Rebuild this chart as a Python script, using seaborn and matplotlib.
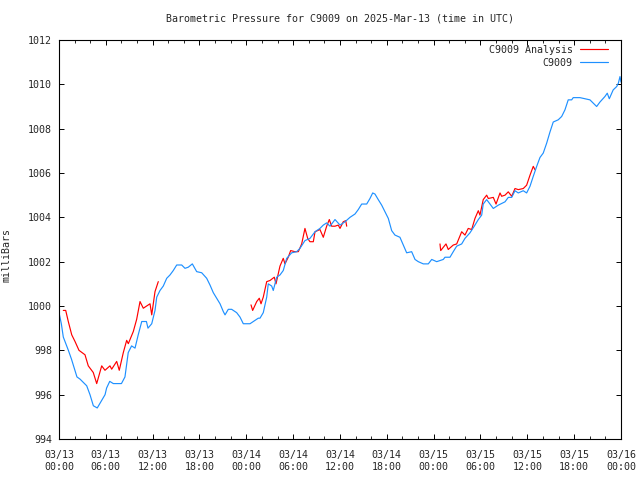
import numpy as np
import pandas as pd
import matplotlib
matplotlib.use("Agg")
import matplotlib.pyplot as plt
import matplotlib.dates as mdates
from matplotlib.lines import Line2D
import seaborn as sns

# ---- data (hours since 2025-03-13 00:00 UTC, pressure in mb) ----
obs_hours = [0.0, 0.3, 0.55, 1.2, 1.6, 2.3, 2.7, 3.55, 3.97, 4.4, 4.9, 5.9, 6.1, 6.5, 6.96,
             8.0, 8.45, 8.87, 9.3, 9.74, 10.15, 10.6, 11.2, 11.4, 11.88, 12.3, 12.52, 12.94,
             13.36, 13.8, 14.22, 14.64, 15.08, 15.72, 16.14, 16.56, 17.08, 17.64, 18.28,
             18.92, 19.34, 19.77, 20.2, 20.63, 21.05, 21.27, 21.69, 22.12, 22.76, 23.19,
             23.61, 24.47, 25.11, 25.53, 25.75, 26.17, 26.61, 26.81, 27.25, 27.45, 27.89,
             28.31, 28.73, 29.17, 29.81, 30.45, 30.87, 31.51, 32.15, 32.8, 33.43, 33.86,
             34.29, 34.72, 35.36, 36.0, 36.64, 37.28, 37.92, 38.34, 38.78, 39.42, 39.84,
             40.19, 40.48, 40.9, 41.34, 41.76, 42.19, 42.62, 43.04, 43.68, 44.11, 44.54,
             45.18, 45.61, 46.03, 46.67, 47.31, 47.75, 48.39, 49.23, 49.45, 50.09, 50.51,
             50.95, 51.59, 52.01, 52.65, 53.29, 53.72, 54.15, 54.35, 54.79, 55.21, 55.64,
             56.28, 57.14, 57.56, 58.0, 58.42, 58.84, 59.48, 59.91, 60.34, 60.76, 61.2,
             61.62, 62.04, 62.48, 62.9, 63.32, 63.96, 64.4, 64.82, 65.24, 65.68, 65.88,
             66.74, 68.02, 68.45, 68.88, 69.3, 69.94, 70.24, 70.5, 71.0, 71.45, 71.66,
             71.87, 72.0]
obs_values = [999.7, 999.2, 998.6, 998.0, 997.6, 996.8, 996.7, 996.4, 996.0, 995.5, 995.4,
              996.0, 996.3, 996.6, 996.5, 996.5, 996.8, 997.9, 998.2, 998.1, 998.7, 999.3,
              999.3, 999.0, 999.2, 999.8, 1000.4, 1000.7, 1000.9, 1001.25, 1001.4, 1001.6,
              1001.85, 1001.85, 1001.7, 1001.75, 1001.9, 1001.55, 1001.5, 1001.25, 1000.95,
              1000.6, 1000.35, 1000.1, 999.75, 999.6, 999.85, 999.85, 999.7, 999.5, 999.2,
              999.2, 999.35, 999.45, 999.45, 999.7, 1000.4, 1001.0, 1000.9, 1000.7, 1001.3,
              1001.4, 1001.6, 1002.15, 1002.4, 1002.45, 1002.6, 1002.95, 1003.05, 1003.35,
              1003.5, 1003.65, 1003.75, 1003.6, 1003.9, 1003.65, 1003.8, 1004.0, 1004.15,
              1004.35, 1004.6, 1004.6, 1004.85, 1005.1, 1005.05, 1004.8, 1004.55, 1004.25,
              1003.95, 1003.4, 1003.2, 1003.1, 1002.75, 1002.4, 1002.45, 1002.1, 1002.0,
              1001.9, 1001.9, 1002.1, 1002.0, 1002.1, 1002.2, 1002.2, 1002.45, 1002.7,
              1002.8, 1003.05, 1003.3, 1003.65, 1003.9, 1004.1, 1004.6, 1004.8, 1004.6,
              1004.4, 1004.55, 1004.7, 1004.9, 1004.9, 1005.2, 1005.1, 1005.2, 1005.1,
              1005.4, 1005.85, 1006.3, 1006.7, 1006.9, 1007.35, 1007.85, 1008.3, 1008.4,
              1008.55, 1008.85, 1009.3, 1009.3, 1009.4, 1009.4, 1009.3, 1009.15, 1009.0,
              1009.2, 1009.45, 1009.6, 1009.35, 1009.75, 1009.9, 1010.05, 1010.35, 1010.1]

ana_seg1_hours = [0.55, 0.86, 1.19, 1.63, 2.05, 2.56, 3.33, 3.75, 4.39, 4.83, 5.47, 5.89,
                  6.53, 6.75, 7.39, 7.72, 8.24, 8.67, 8.88, 9.52, 9.95, 10.38, 10.8, 11.66,
                  11.88, 12.3, 12.72]
ana_seg1_values = [999.8, 999.8, 999.3, 998.7, 998.4, 998.0, 997.8, 997.3, 997.0, 996.5,
                   997.3, 997.1, 997.3, 997.15, 997.5, 997.1, 997.9, 998.45, 998.3, 998.85,
                   999.4, 1000.2, 999.9, 1000.1, 999.6, 1000.65, 1001.1]
ana_seg2_hours = [24.6, 24.81, 25.33, 25.66, 25.88, 26.17, 26.61, 27.03, 27.58, 27.8, 28.31,
                  28.73, 28.95, 29.37, 29.68, 30.23, 30.66, 31.09, 31.51, 31.86, 32.15,
                  32.58, 32.8, 33.43, 33.86, 34.29, 34.63, 34.93, 35.36, 35.78, 36.0, 36.42,
                  36.73, 36.86]
ana_seg2_values = [1000.05, 999.8, 1000.2, 1000.35, 1000.1, 1000.4, 1001.1, 1001.15,
                   1001.3, 1001.0, 1001.8, 1002.15, 1001.9, 1002.2, 1002.5, 1002.45,
                   1002.45, 1002.8, 1003.5, 1003.05, 1002.9, 1002.9, 1003.35, 1003.45,
                   1003.1, 1003.6, 1003.9, 1003.6, 1003.6, 1003.65, 1003.5, 1003.8,
                   1003.85, 1003.6]
ana_seg3_hours = [48.81, 48.9, 49.58, 49.87, 50.51, 50.95, 51.59, 52.01, 52.43, 52.87,
                  53.29, 53.72, 53.93, 54.35, 54.79, 55.0, 55.64, 55.99, 56.5, 56.71,
                  57.14, 57.56, 58.0, 58.42, 58.84, 59.48, 59.91, 60.34, 60.76, 60.98]
ana_seg3_values = [1002.8, 1002.5, 1002.8, 1002.55, 1002.75, 1002.8, 1003.35, 1003.2,
                   1003.5, 1003.45, 1003.95, 1004.3, 1004.1, 1004.8, 1005.0, 1004.85,
                   1004.9, 1004.6, 1005.1, 1004.95, 1005.0, 1005.15, 1004.95, 1005.3,
                   1005.25, 1005.3, 1005.45, 1005.9, 1006.3, 1006.15]

y_ticks = [994, 996, 998, 1000, 1002, 1004, 1006, 1008, 1010, 1012]
start = pd.Timestamp("2025-03-13 00:00")
end = pd.Timestamp("2025-03-16 00:00")
title = "Barometric Pressure for C9009 on 2025-Mar-13 (time in UTC)"
obs_label = "C9009"
ana_label = "C9009 Analysis"

# ---- build tables ----
obs_df = pd.DataFrame({"time": start + pd.to_timedelta(obs_hours, unit="h"),
                       "p": obs_values})
segs = [(ana_seg1_hours, ana_seg1_values), (ana_seg2_hours, ana_seg2_values),
        (ana_seg3_hours, ana_seg3_values)]
ana_df = pd.concat([pd.DataFrame({"time": start + pd.to_timedelta(h, unit="h"),
                                  "p": v, "seg": i}) for i, (h, v) in enumerate(segs)],
                   ignore_index=True)

sns.set_style("ticks")
plt.rcParams["font.family"] = ["DejaVu Sans Mono"]
FS = 7.2
plt.rcParams["font.size"] = FS

red = "#FF0000"
blue = "#1E90FF"
LW = 0.85

fig = plt.figure(figsize=(6.4, 4.8), dpi=100)
ax = fig.add_axes([59 / 640, 41 / 480, 562 / 640, 399 / 480])

sns.lineplot(data=ana_df, x="time", y="p", units="seg", estimator=None,
             color=red, lw=LW, ax=ax, legend=False)
sns.lineplot(data=obs_df, x="time", y="p", color=blue, lw=LW, ax=ax, legend=False)

ax.set_xlim(start, end)
ax.set_ylim(994, 1012)
ax.set_yticks(y_ticks)
ax.xaxis.set_major_locator(mdates.HourLocator(byhour=[0, 6, 12, 18]))
ax.xaxis.set_minor_locator(mdates.HourLocator(interval=2))
ax.xaxis.set_major_formatter(mdates.DateFormatter("%m/%d\n%H:%M"))

ax.tick_params(axis="both", which="major", direction="in", length=3.5, width=0.7,
               top=True, right=True, labelsize=FS, color="black")
ax.tick_params(axis="x", which="minor", direction="in", length=2, width=0.7,
               top=True, bottom=True)
ax.tick_params(axis="x", which="major", pad=8)
ax.tick_params(axis="y", which="major", pad=5)
for lab in ax.get_xticklabels():
    lab.set_linespacing(1.2)

for s in ax.spines.values():
    s.set_visible(True)
    s.set_color("black")
    s.set_linewidth(0.8)

ax.set_xlabel("")
ax.set_ylabel("milliBars", fontsize=FS)
ax.yaxis.set_label_coords(-0.085, 0.46)
ax.set_title(title, fontsize=FS, pad=13)

handles = [Line2D([], [], color=red, lw=LW), Line2D([], [], color=blue, lw=LW)]
ax.legend(handles, [ana_label, obs_label], loc="upper right", frameon=False,
          markerfirst=False, fontsize=FS, handlelength=2.8, handletextpad=0.7,
          labelspacing=0.3, borderaxespad=0.1, bbox_to_anchor=(0.985, 1.0))

fig.savefig("out.png", dpi=100)
